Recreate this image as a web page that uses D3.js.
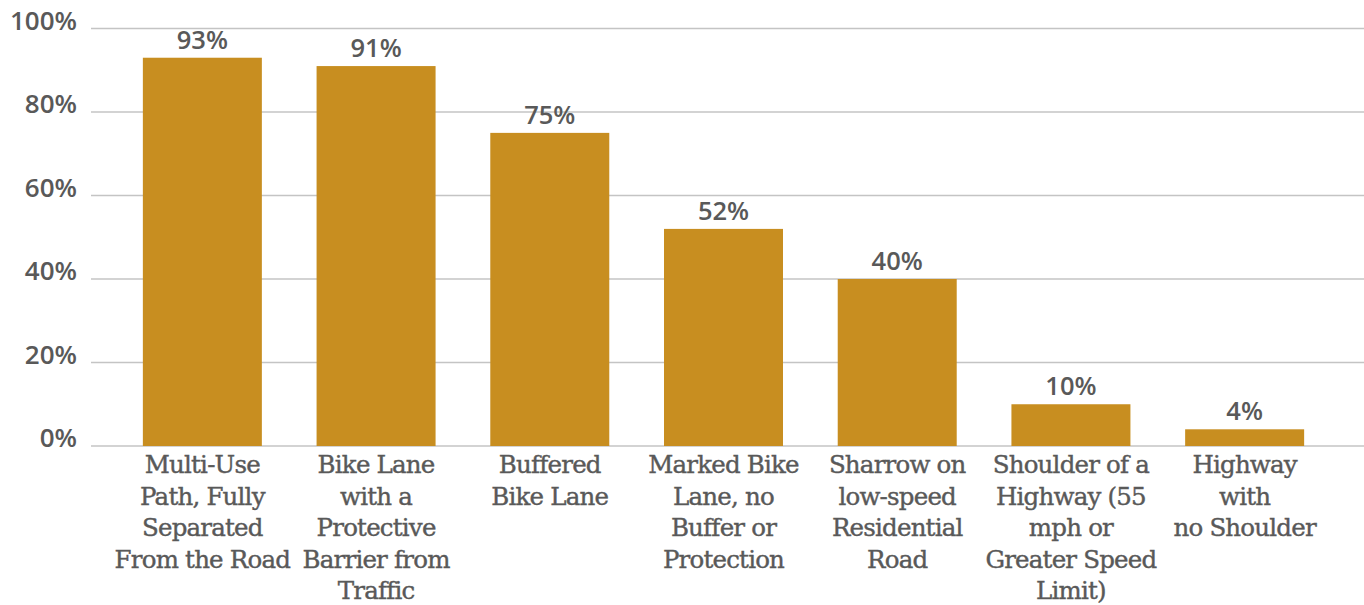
<!DOCTYPE html>
<html>
<head>
<meta charset="utf-8">
<script src="https://cdn.jsdelivr.net/npm/d3@7"></script>
<style>
  html, body { margin: 0; padding: 0; background: #fff; }
  svg { display: block; }
</style>
</head>
<body>
<svg id="chart" width="1364" height="605"></svg>
<script>
// Share of respondents comfortable riding on each facility type
const categories = [
  ["Multi-Use", "Path, Fully", "Separated", "From the Road"],
  ["Bike Lane", "with a", "Protective", "Barrier from", "Traffic"],
  ["Buffered", "Bike Lane"],
  ["Marked Bike", "Lane, no", "Buffer or", "Protection"],
  ["Sharrow on", "low-speed", "Residential", "Road"],
  ["Shoulder of a", "Highway (55", "mph or", "Greater Speed", "Limit)"],
  ["Highway", "with", "no Shoulder"]
];
const values = [93, 91, 75, 52, 40, 10, 4];
const yTicks = [0, 20, 40, 60, 80, 100];

const svg = d3.select("#chart");
const barColor = "#C88E20";
const textColor = "#595959";
const sansFont = "'Open Sans', Lato, sans-serif";
const slabFont = "'DejaVu Serif', serif";

const x = d3.scaleBand()
  .domain(d3.range(values.length))
  .range([115.5, 1331.5])
  .paddingInner(0.315)
  .paddingOuter(0.1575);

const y = d3.scaleLinear().domain([0, 100]).range([446, 28.5]);

// Gridlines
svg.append("g")
  .selectAll("line")
  .data(yTicks)
  .join("line")
  .attr("x1", 91).attr("x2", 1364)
  .attr("y1", d => y(d)).attr("y2", d => y(d))
  .attr("stroke", "#c4c4c4")
  .attr("stroke-width", 1.5);

// Y tick labels
svg.append("g")
  .selectAll("text")
  .data(yTicks)
  .join("text")
  .attr("x", 77)
  .attr("y", d => y(d) + 1)
  .attr("text-anchor", "end")
  .attr("font-family", sansFont)
  .attr("font-weight", 600)
  .attr("font-size", 26)
  .attr("fill", textColor)
  .text(d => d + "%");

// Bars
svg.append("g")
  .selectAll("rect")
  .data(values)
  .join("rect")
  .attr("x", (d, i) => x(i))
  .attr("width", x.bandwidth())
  .attr("y", d => y(d))
  .attr("height", d => y(0) - y(d))
  .attr("fill", barColor);

// Value labels
svg.append("g")
  .selectAll("text")
  .data(values)
  .join("text")
  .attr("x", (d, i) => x(i) + x.bandwidth() / 2)
  .attr("y", d => y(d) - 9)
  .attr("text-anchor", "middle")
  .attr("font-family", sansFont)
  .attr("font-weight", 600)
  .attr("font-size", 25.5)
  .attr("fill", textColor)
  .text(d => d + "%");

// Category labels
const cat = svg.append("g")
  .selectAll("text")
  .data(categories)
  .join("text")
  .attr("x", (d, i) => x(i) + x.bandwidth() / 2)
  .attr("y", 473)
  .attr("text-anchor", "middle")
  .attr("font-family", slabFont)
  .attr("font-size", 24.5)
  .attr("letter-spacing", -0.8)
  .attr("fill", textColor)
  .attr("stroke", textColor)
  .attr("stroke-width", 0.4);

cat.selectAll("tspan")
  .data(d => d)
  .join("tspan")
  .attr("x", function () { return d3.select(this.parentNode).attr("x"); })
  .attr("dy", (d, i) => i === 0 ? 0 : 31.5)
  .text(d => d);
</script>
</body>
</html>
